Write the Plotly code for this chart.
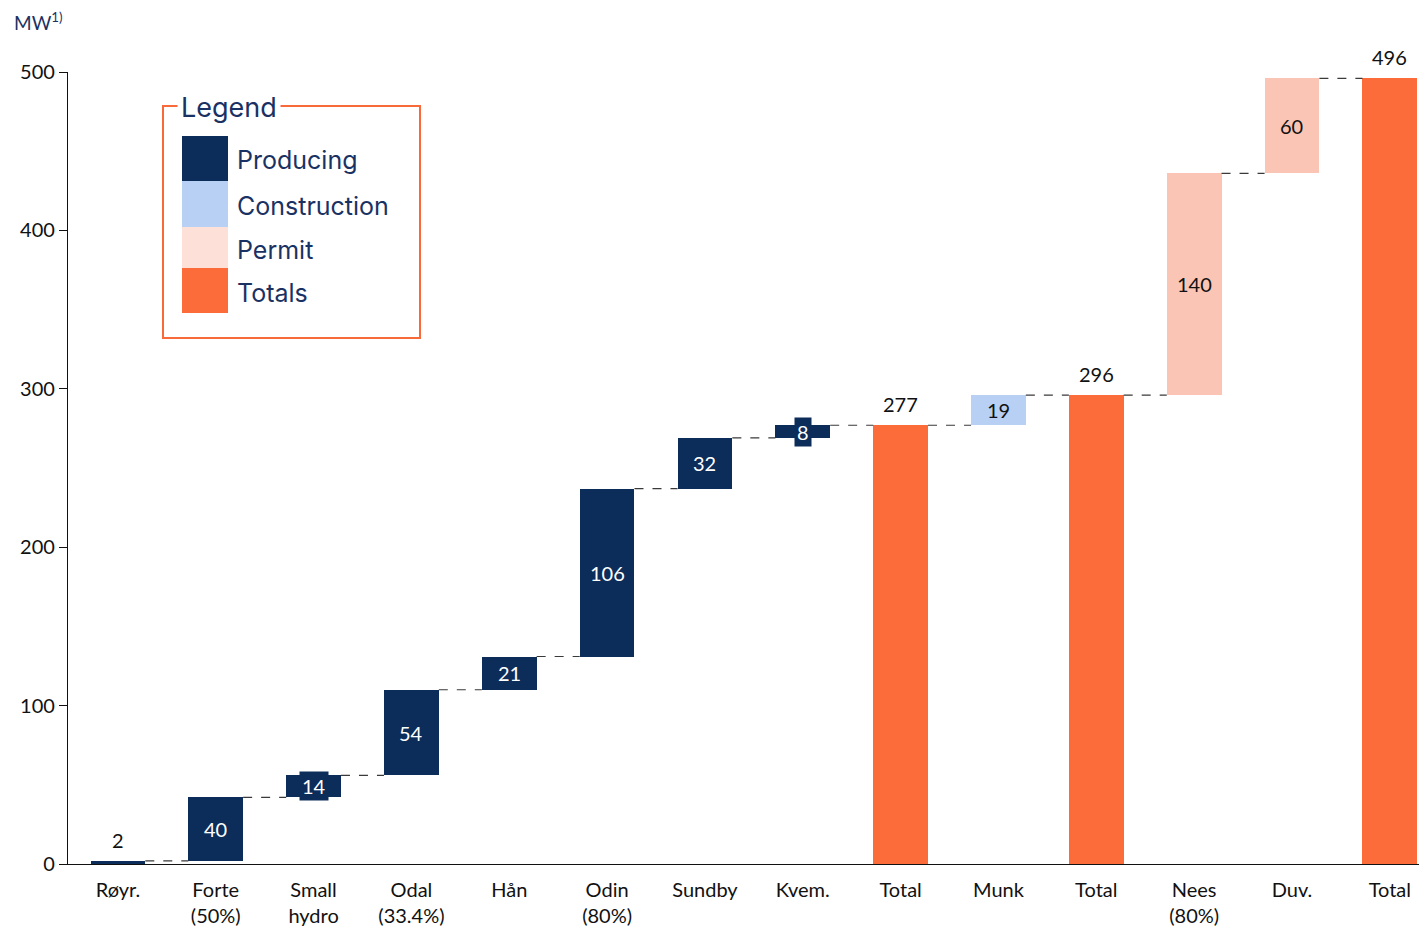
import plotly.graph_objects as go

# -------------------------------------
# Chart data
# -------------------------------------
CATEGORIES = [
  "Røyr.", "Forte<br>(50%)", "Small<br>hydro", "Odal<br>(33.4%)", "Hån",
  "Odin<br>(80%)", "Sundby", "Kvem.", "Total", "Munk", "Total",
  "Nees<br>(80%)", "Duv.", "Total",
]
# MW per step; None marks a running total
STEP_VALUES = [2, 40, 14, 54, 21, 106, 32, 8, None, 19, None, 140, 60, None]
STAGES = [
  "Producing", "Producing", "Producing", "Producing", "Producing",
  "Producing", "Producing", "Producing", "Totals", "Construction", "Totals",
  "Permit", "Permit", "Totals",
]
LEGEND_LABELS = ["Producing", "Construction", "Permit", "Totals"]
Y_TICKS = [0, 100, 200, 300, 400, 500]

BAR_COLORS = {
  "Producing": "#0C2C5A",
  "Construction": "#B8D0F3",
  "Permit": "#FAC5B4",
  "Totals": "#FC6B3A",
}
LEGEND_COLORS = {
  "Producing": "#0C2C5A",
  "Construction": "#B8D0F3",
  "Permit": "#FDE1D8",
  "Totals": "#FC6B3A",
}

BAR_WIDTH = 0.56
TEXT_FONT = "Lato, 'Open Sans', sans-serif"
LEGEND_FONT = "Inter, 'Noto Sans', sans-serif"
NAVY = "#0C2C5A"


def main():
  # -------------------------------------
  # Build waterfall geometry
  # -------------------------------------
  bases, heights, tops = [], [], []
  running = 0
  for v in STEP_VALUES:
    if v is None:
      bases.append(0)
      heights.append(running)
    else:
      bases.append(running)
      heights.append(v)
      running += v
    tops.append(running)

  xs = list(range(len(CATEGORIES)))
  colors = [BAR_COLORS[s] for s in STAGES]

  fig = go.Figure()
  fig.add_trace(go.Bar(
    x=xs,
    y=heights,
    base=bases,
    width=BAR_WIDTH,
    marker=dict(color=colors, line=dict(width=0)),
    showlegend=False,
    hoverinfo="skip",
  ))

  # -------------------------------------
  # Connector lines
  # -------------------------------------
  for i in range(len(xs) - 1):
    fig.add_shape(
      type="line", xref="x", yref="y",
      x0=xs[i] + BAR_WIDTH / 2, x1=xs[i + 1] - BAR_WIDTH / 2,
      y0=tops[i], y1=tops[i],
      line=dict(color="#3a3a3a", width=1.2, dash="dash"),
    )

  # -------------------------------------
  # Value labels
  # -------------------------------------
  for i, h in enumerate(heights):
    stage = STAGES[i]
    if stage == "Totals" or h < 5:
      fig.add_annotation(
        x=xs[i], y=bases[i] + h, text=str(h), showarrow=False,
        yanchor="bottom", yshift=7,
        font=dict(family=TEXT_FONT, size=20, color="#111111"),
      )
    else:
      txt_color = "white" if stage == "Producing" else "#111111"
      label = dict(
        x=xs[i], y=bases[i] + h / 2, text=str(h), showarrow=False,
        yanchor="middle",
        font=dict(family=TEXT_FONT, size=20, color=txt_color),
      )
      if h < 15:
        # small step: label gets its own dark box
        label.update(bgcolor=NAVY, borderpad=2)
      fig.add_annotation(**label)

  # -------------------------------------
  # Custom legend box
  # -------------------------------------
  # page pixel -> paper coords (plot area: 68..1427 x 72..864 px)
  def px_x(p):
    return (p - 68) / 1359

  def px_y(p):
    return (864 - p) / 792

  fig.add_shape(
    type="rect", xref="paper", yref="paper",
    x0=px_x(163), x1=px_x(420), y0=px_y(338), y1=px_y(106),
    line=dict(color="#F96A3A", width=2), fillcolor="rgba(0,0,0,0)",
  )
  fig.add_annotation(
    xref="paper", yref="paper", x=px_x(177), y=px_y(107),
    text="Legend", showarrow=False, xanchor="left", yanchor="middle",
    bgcolor="white", borderpad=3,
    font=dict(family=LEGEND_FONT, size=27, color="#1A3263"),
  )
  swatch_edges = [136, 181, 227, 268, 313]
  for k, name in enumerate(LEGEND_LABELS):
    y_top, y_bot = swatch_edges[k], swatch_edges[k + 1]
    fig.add_shape(
      type="rect", xref="paper", yref="paper",
      x0=px_x(182), x1=px_x(228), y0=px_y(y_bot), y1=px_y(y_top),
      line=dict(width=0), fillcolor=LEGEND_COLORS[name],
    )
    fig.add_annotation(
      xref="paper", yref="paper", x=px_x(235), y=px_y((y_top + y_bot) / 2 + 2),
      text=name, showarrow=False, xanchor="left", yanchor="middle",
      font=dict(family=LEGEND_FONT, size=25, color="#1A3263"),
    )

  # unit label
  fig.add_annotation(
    xref="paper", yref="paper", x=px_x(12), y=px_y(22),
    text="MW<sup>1)</sup>", showarrow=False, xanchor="left", yanchor="middle",
    font=dict(family=TEXT_FONT, size=19, color="#1A3263"),
  )

  # -------------------------------------
  # Layout (page body adds 8px offset)
  # -------------------------------------
  fig.update_layout(
    width=1419,
    height=921,
    margin=dict(l=60, r=0, t=64, b=65),
    plot_bgcolor="white",
    paper_bgcolor="white",
    bargap=0,
    font=dict(family=TEXT_FONT, size=20, color="#111111"),
    xaxis=dict(
      range=[-0.51, 13.38],
      tickmode="array",
      tickvals=xs,
      ticktext=CATEGORIES,
      showgrid=False,
      zeroline=False,
      showline=True,
      linecolor="#111111",
      linewidth=1.2,
      ticks="",
      ticklabelstandoff=8,
      tickfont=dict(family=TEXT_FONT, size=20, color="#111111"),
    ),
    yaxis=dict(
      range=[0, 500],
      tickmode="array",
      tickvals=Y_TICKS,
      showgrid=False,
      zeroline=False,
      showline=True,
      linecolor="#111111",
      linewidth=1.2,
      ticks="outside",
      ticklen=8,
      tickcolor="#111111",
      tickfont=dict(family=TEXT_FONT, size=20, color="#111111"),
    ),
  )

  fig.write_html("out.html")


if __name__ == "__main__":
  main()
